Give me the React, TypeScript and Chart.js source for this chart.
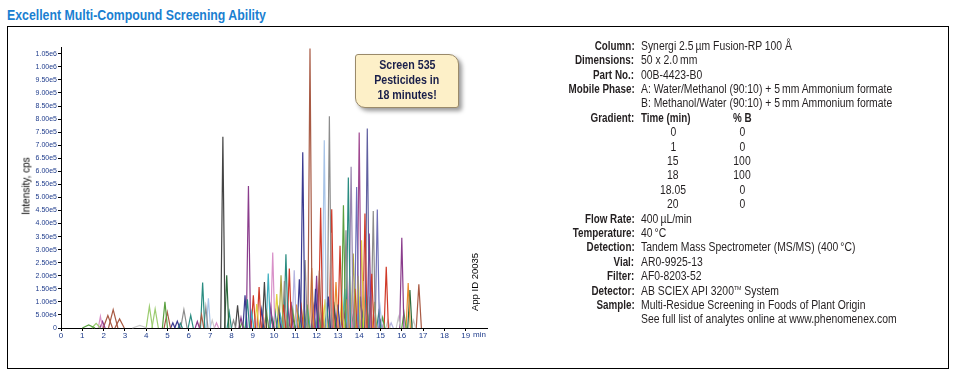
import React, { useEffect, useRef } from "react";
import { Chart, registerables } from "chart.js";

Chart.register(...registerables);

// Colour palette for the peak traces
const palette = [
  "#a85a44", // 0 brown
  "#3a3a90", // 1 navy
  "#8a3c8c", // 2 purple
  "#8c8c8c", // 3 gray
  "#2a8c80", // 4 teal
  "#5aa040", // 5 green
  "#d03a28", // 6 red
  "#a8c4e8", // 7 light blue
  "#d890c8", // 8 pink
  "#a8a040", // 9 olive
  "#e88a30", // 10 orange
  "#b4b4e0", // 11 lavender
  "#444444", // 12 dark
  "#e88070", // 13 salmon
  "#9ccc70", // 14 light green
  "#e0d040", // 15 yellow
  "#40b0c0", // 16 cyan
  "#a04890", // 17 magenta
  "#2a6a3a", // 18 dark green
  "#c8c8c8", // 19 light gray
  "#9a88b0", // 20 gray purple
  "#7070b8", // 21 slate purple
  "#6060a0", // 22 slate navy
];

// Retention time (min) of each peak apex
const peakTimes = [
  1.3, 1.65, 1.85, 1.95, 2.2, 2.45, 2.75, 3.7, 4.15, 4.42, 4.88, 4.99, 5.25, 5.46, 5.6, 5.77, 6.09, 6.4, 6.6, 6.65,
  6.8, 6.92, 7.1, 7.3, 7.6, 7.78, 7.9, 8.1, 8.29, 8.45, 8.5, 8.64, 8.75, 8.8, 8.95, 9.03, 9.1, 9.19, 9.3, 9.42,
  9.5, 9.55, 9.65, 9.73, 9.85, 9.9, 9.94, 10.05, 10.13, 10.22, 10.3, 10.33, 10.45, 10.49, 10.56, 10.6, 10.65, 10.72, 10.8, 10.88,
  10.9, 10.95, 11.05, 11.12, 11.15, 11.19, 11.28, 11.35, 11.4, 11.46, 11.55, 11.6, 11.69, 11.77, 11.85, 11.9, 11.95, 12.0, 12.08, 12.13,
  12.19, 12.25, 12.28, 12.36, 12.4, 12.48, 12.5, 12.55, 12.6, 12.68, 12.71, 12.75, 12.8, 12.85, 12.91, 13.0, 13.05, 13.1, 13.18, 13.26,
  13.3, 13.32, 13.38, 13.43, 13.49, 13.55, 13.62, 13.65, 13.72, 13.8, 13.88, 13.9, 13.95, 14.0, 14.06, 14.11, 14.15, 14.2, 14.27, 14.33,
  14.38, 14.4, 14.47, 14.52, 14.59, 14.66, 14.7, 14.72, 14.85, 14.92, 14.98, 15.0, 15.1, 15.27, 15.35, 15.5, 15.84, 16.0, 16.1, 16.3,
  16.38, 16.55, 16.8,
];

// Apex intensity (thousand cps)
const peakHeightsK = [
  12, 18, 45, 25, 48, 70, 35, 10, 83, 73, 100, 61, 20, 26, 18, 70, 49, 25, 50, 174,
  80, 114, 30, 20, 732, 202, 60, 30, 87, 40, 20, 125, 110, 544, 60, 125, 35, 92, 157, 70,
  45, 176, 60, 209, 80, 40, 289, 60, 130, 70, 50, 202, 90, 180, 282, 40, 80, 228, 100, 70,
  35, 221, 90, 60, 45, 187, 80, 673, 50, 260, 90, 60, 1070, 230, 80, 40, 150, 200, 70, 220,
  460, 50, 90, 719, 110, 80, 40, 120, 811, 365, 455, 60, 100, 70, 176, 90, 45, 315, 120, 470,
  55, 150, 374, 110, 576, 200, 617, 50, 285, 150, 540, 45, 200, 749, 120, 336, 60, 180, 438, 140,
  764, 50, 362, 120, 208, 448, 40, 100, 454, 60, 80, 30, 40, 234, 30, 20, 42, 346, 60, 172,
  145, 30, 167,
];

// Half base width of each peak (min)
const peakWidths = [
  0.3, 0.2, 0.1, 0.12, 0.22, 0.22, 0.22, 0.35, 0.15, 0.15, 0.12, 0.15, 0.1, 0.12, 0.1, 0.15, 0.12, 0.1, 0.1, 0.1,
  0.1, 0.1, 0.1, 0.1, 0.1, 0.1, 0.1, 0.1, 0.1, 0.1, 0.1, 0.1, 0.1, 0.1, 0.1, 0.1, 0.1, 0.1, 0.1, 0.1,
  0.1, 0.1, 0.1, 0.1, 0.1, 0.1, 0.1, 0.1, 0.1, 0.1, 0.1, 0.1, 0.1, 0.1, 0.1, 0.1, 0.1, 0.1, 0.1, 0.1,
  0.1, 0.1, 0.1, 0.1, 0.1, 0.1, 0.1, 0.1, 0.1, 0.1, 0.1, 0.1, 0.1, 0.1, 0.1, 0.1, 0.1, 0.1, 0.1, 0.1,
  0.1, 0.1, 0.1, 0.1, 0.1, 0.1, 0.1, 0.1, 0.1, 0.1, 0.1, 0.1, 0.1, 0.1, 0.1, 0.1, 0.1, 0.1, 0.1, 0.1,
  0.1, 0.1, 0.1, 0.1, 0.1, 0.1, 0.1, 0.1, 0.1, 0.1, 0.1, 0.1, 0.1, 0.1, 0.1, 0.1, 0.1, 0.1, 0.1, 0.1,
  0.1, 0.1, 0.1, 0.1, 0.1, 0.1, 0.1, 0.1, 0.1, 0.1, 0.1, 0.1, 0.1, 0.1, 0.1, 0.1, 0.1, 0.1, 0.1, 0.1,
  0.1, 0.1, 0.12,
];

// Palette index of each peak
const peakColorIdx = [
  5, 14, 8, 2, 0, 0, 0, 19, 14, 14, 5, 0, 1, 1, 4, 3, 4, 2, 0, 4,
  3, 7, 19, 8, 12, 18, 4, 3, 12, 2, 5, 1, 4, 2, 16, 6, 11, 15, 6, 1,
  13, 12, 5, 16, 2, 18, 8, 4, 15, 1, 16, 9, 6, 3, 4, 15, 2, 6, 2, 5,
  12, 11, 10, 4, 14, 1, 6, 1, 9, 3, 5, 16, 0, 10, 2, 16, 1, 2, 5, 0,
  6, 3, 15, 7, 15, 4, 17, 1, 3, 13, 6, 14, 18, 2, 10, 1, 11, 6, 15, 5,
  2, 16, 3, 10, 4, 8, 20, 5, 9, 6, 21, 16, 15, 17, 5, 15, 1, 13, 6, 4,
  22, 9, 2, 10, 6, 3, 13, 9, 21, 4, 7, 2, 5, 6, 19, 11, 19, 2, 5, 10,
  18, 19, 0,
];

const xTickValues = [0, 1, 2, 3, 4, 5, 6, 7, 8, 9, 10, 11, 12, 13, 14, 15, 16, 17, 18, 19];
const yTickValues = [
  0, 50000, 100000, 150000, 200000, 250000, 300000, 350000, 400000, 450000, 500000,
  550000, 600000, 650000, 700000, 750000, 800000, 850000, 900000, 950000, 1000000, 1050000,
];
const xMax = 20;
const yMax = 1076000;

const gradientTimes = ["0", "1", "15", "18", "18.05", "20"];
const gradientB = ["0", "0", "100", "100", "0", "0"];

const infoTop = [
  ["Column:", "Synergi 2.5\u2009\u00b5m Fusion-RP 100 \u00c5"],
  ["Dimensions:", "50 x 2.0\u2009mm"],
  ["Part No.:", "00B-4423-B0"],
  ["Mobile Phase:", "A: Water/Methanol (90:10) + 5\u2009mm Ammonium formate"],
  ["", "B: Methanol/Water (90:10) + 5\u2009mm Ammonium formate"],
];
const infoBottom = [
  ["Flow Rate:", "400\u2009\u00b5L/min"],
  ["Temperature:", "40\u2009\u00b0C"],
  ["Detection:", "Tandem Mass Spectrometer (MS/MS) (400\u2009\u00b0C)"],
  ["Vial:", "AR0-9925-13"],
  ["Filter:", "AF0-8203-52"],
  ["Detector:", "AB SCIEX API 3200\u2122 System"],
  ["Sample:", "Multi-Residue Screening in Foods of Plant Origin"],
  ["", "See full list of analytes online at www.phenomenex.com"],
];

const SANS = '"Liberation Sans", Arial, sans-serif';
const TICK_COLOR = "#1f3c8c";
const ROW_H = 14.4;
const ROW_TOP = 38.8;

function Sq(props: { k: number; origin: string; children: React.ReactNode; style?: React.CSSProperties }) {
  return (
    <span
      style={{
        display: "inline-block",
        transform: `scaleX(${props.k})`,
        transformOrigin: props.origin,
        whiteSpace: "nowrap",
        ...props.style,
      }}
    >
      {props.children}
    </span>
  );
}

export default function App() {
  const ref = useRef<HTMLCanvasElement>(null);

  useEffect(() => {
    const datasets = peakTimes.map((t, i) => ({
      data: [
        { x: t - peakWidths[i], y: 0 },
        { x: t, y: peakHeightsK[i] * 1000 },
        { x: t + peakWidths[i], y: 0 },
      ],
      borderColor: palette[peakColorIdx[i]],
      borderWidth: 1.2,
      pointRadius: 0,
      tension: 0,
      fill: false,
      clip: false as any,
    }));

    const chart = new Chart(ref.current!, {
      type: "line",
      data: { datasets },
      options: {
        animation: false,
        responsive: false,
        devicePixelRatio: 1,
        layout: { padding: { left: 0, right: 13, top: 19, bottom: 20 } },
        plugins: { legend: { display: false }, tooltip: { enabled: false } },
        scales: {
          x: {
            type: "linear",
            min: 0,
            max: xMax,
            afterBuildTicks: (s: any) => {
              s.ticks = xTickValues.map((v) => ({ value: v }));
            },
            ticks: {
              autoSkip: false,
              maxRotation: 0,
              padding: 0,
              color: TICK_COLOR,
              font: { size: 8, family: SANS },
              callback: (v: any) => String(v),
            },
            grid: { drawOnChartArea: false, tickLength: 3, color: "#000" },
            border: { color: "#000", width: 1 },
            afterFit: (s: any) => {
              s.height = 20;
            },
          },
          y: {
            type: "linear",
            min: 0,
            max: yMax,
            afterBuildTicks: (s: any) => {
              s.ticks = yTickValues.map((v) => ({ value: v }));
            },
            ticks: {
              autoSkip: false,
              padding: 1,
              color: TICK_COLOR,
              font: { size: 7, family: SANS },
              callback: (v: any) => (Number(v) === 0 ? "0" : Number(v).toExponential(2).replace("+", "")),
            },
            grid: { drawOnChartArea: false, tickLength: 3, color: "#000" },
            border: { color: "#000", width: 1 },
            afterFit: (s: any) => {
              s.width = 53;
            },
          },
        },
      },
    });
    return () => chart.destroy();
  }, []);

  const rowStyle = (i: number): React.CSSProperties => ({
    position: "absolute",
    top: ROW_TOP + i * ROW_H,
    height: ROW_H,
    lineHeight: `${ROW_H}px`,
    left: 0,
    width: 956,
    fontFamily: SANS,
    fontSize: 12,
    color: "#231f20",
    whiteSpace: "nowrap",
  });
  const labelStyle: React.CSSProperties = {
    position: "absolute",
    right: 956 - 634.5,
    fontWeight: "bold",
  };
  const valueStyle: React.CSSProperties = { position: "absolute", left: 640.5 };
  const col1: React.CSSProperties = { position: "absolute", left: 643, width: 60, textAlign: "center" };
  const col2: React.CSSProperties = { position: "absolute", left: 712, width: 60, textAlign: "center" };
  const KB = 0.82;
  const KR = 0.865;

  const renderInfo = (label: string, value: string, i: number) => {
    const tm = value.indexOf("\u2122");
    return (
      <div key={"r" + i} style={rowStyle(i)}>
        <span style={labelStyle}>
          <Sq k={KB} origin="right center">{label}</Sq>
        </span>
        <span style={valueStyle}>
          <Sq k={KR} origin="left center">
            {tm >= 0 ? (
              <>
                {value.slice(0, tm)}
                <sup style={{ fontSize: 6, lineHeight: 0 }}>TM</sup>
                {value.slice(tm + 1)}
              </>
            ) : (
              value
            )}
          </Sq>
        </span>
      </div>
    );
  };

  return (
    <div
      style={{
        position: "fixed",
        left: 0,
        top: 0,
        width: 956,
        height: 375,
        background: "#fff",
        overflow: "hidden",
      }}
    >
      <div
        style={{
          position: "absolute",
          left: 7,
          top: 7,
          fontFamily: SANS,
          fontWeight: "bold",
          fontSize: 14,
          lineHeight: "16px",
          color: "#1b7fd1",
          whiteSpace: "nowrap",
        }}
      >
        <Sq k={0.88} origin="left center">Excellent Multi-Compound Screening Ability</Sq>
      </div>
      <div
        style={{
          position: "absolute",
          left: 7,
          top: 26,
          width: 942,
          height: 343,
          border: "1.5px solid #000",
          boxSizing: "border-box",
        }}
      />
      <canvas
        ref={ref}
        width={492}
        height={340}
        style={{ position: "absolute", left: 8, top: 28, width: 492, height: 340, display: "block" }}
      />
      <div
        style={{
          position: "absolute",
          left: 26,
          top: 186,
          transform: "translate(-50%, -50%) rotate(-90deg)",
          fontFamily: SANS,
          fontSize: 10,
          color: "#000",
          whiteSpace: "nowrap",
        }}
      >
        Intensity, cps
      </div>
      <div
        style={{
          position: "absolute",
          left: 474,
          top: 282,
          transform: "translate(-50%, -50%) rotate(-90deg)",
          fontFamily: SANS,
          fontSize: 9.5,
          color: "#000",
          whiteSpace: "nowrap",
        }}
      >
        App ID 20035
      </div>
      <div
        style={{
          position: "absolute",
          left: 473,
          top: 330,
          fontFamily: SANS,
          fontSize: 8,
          lineHeight: "9px",
          color: TICK_COLOR,
        }}
      >
        min
      </div>
      <div
        style={{
          position: "absolute",
          left: 355,
          top: 54,
          width: 104,
          height: 54,
          boxSizing: "border-box",
          background: "#fdf0c8",
          border: "1px solid #9a8a6a",
          borderRadius: "3px 10px 3px 10px",
          boxShadow: "3px 3px 4px rgba(0,0,0,0.4)",
          textAlign: "center",
          fontFamily: SANS,
          fontWeight: "bold",
          fontSize: 13,
          lineHeight: "15px",
          color: "#1a1f4a",
          paddingTop: 1.5,
        }}
      >
        <div><Sq k={0.82} origin="center">Screen 535</Sq></div>
        <div><Sq k={0.82} origin="center">Pesticides in</Sq></div>
        <div><Sq k={0.82} origin="center">18 minutes!</Sq></div>
      </div>
      {infoTop.map(([l, v], i) => renderInfo(l, v, i))}
      <div style={rowStyle(5)}>
        <span style={labelStyle}>
          <Sq k={KB} origin="right center">Gradient:</Sq>
        </span>
        <span style={{ ...valueStyle, fontWeight: "bold" }}>
          <Sq k={KB} origin="left center">Time (min)</Sq>
        </span>
        <span style={{ ...col2, fontWeight: "bold" }}>
          <Sq k={KB} origin="center">% B</Sq>
        </span>
      </div>
      {gradientTimes.map((t, i) => (
        <div key={"g" + i} style={rowStyle(6 + i)}>
          <span style={col1}>
            <Sq k={KR} origin="center">{t}</Sq>
          </span>
          <span style={col2}>
            <Sq k={KR} origin="center">{gradientB[i]}</Sq>
          </span>
        </div>
      ))}
      {infoBottom.map(([l, v], i) => renderInfo(l, v, 12 + i))}
    </div>
  );
}
